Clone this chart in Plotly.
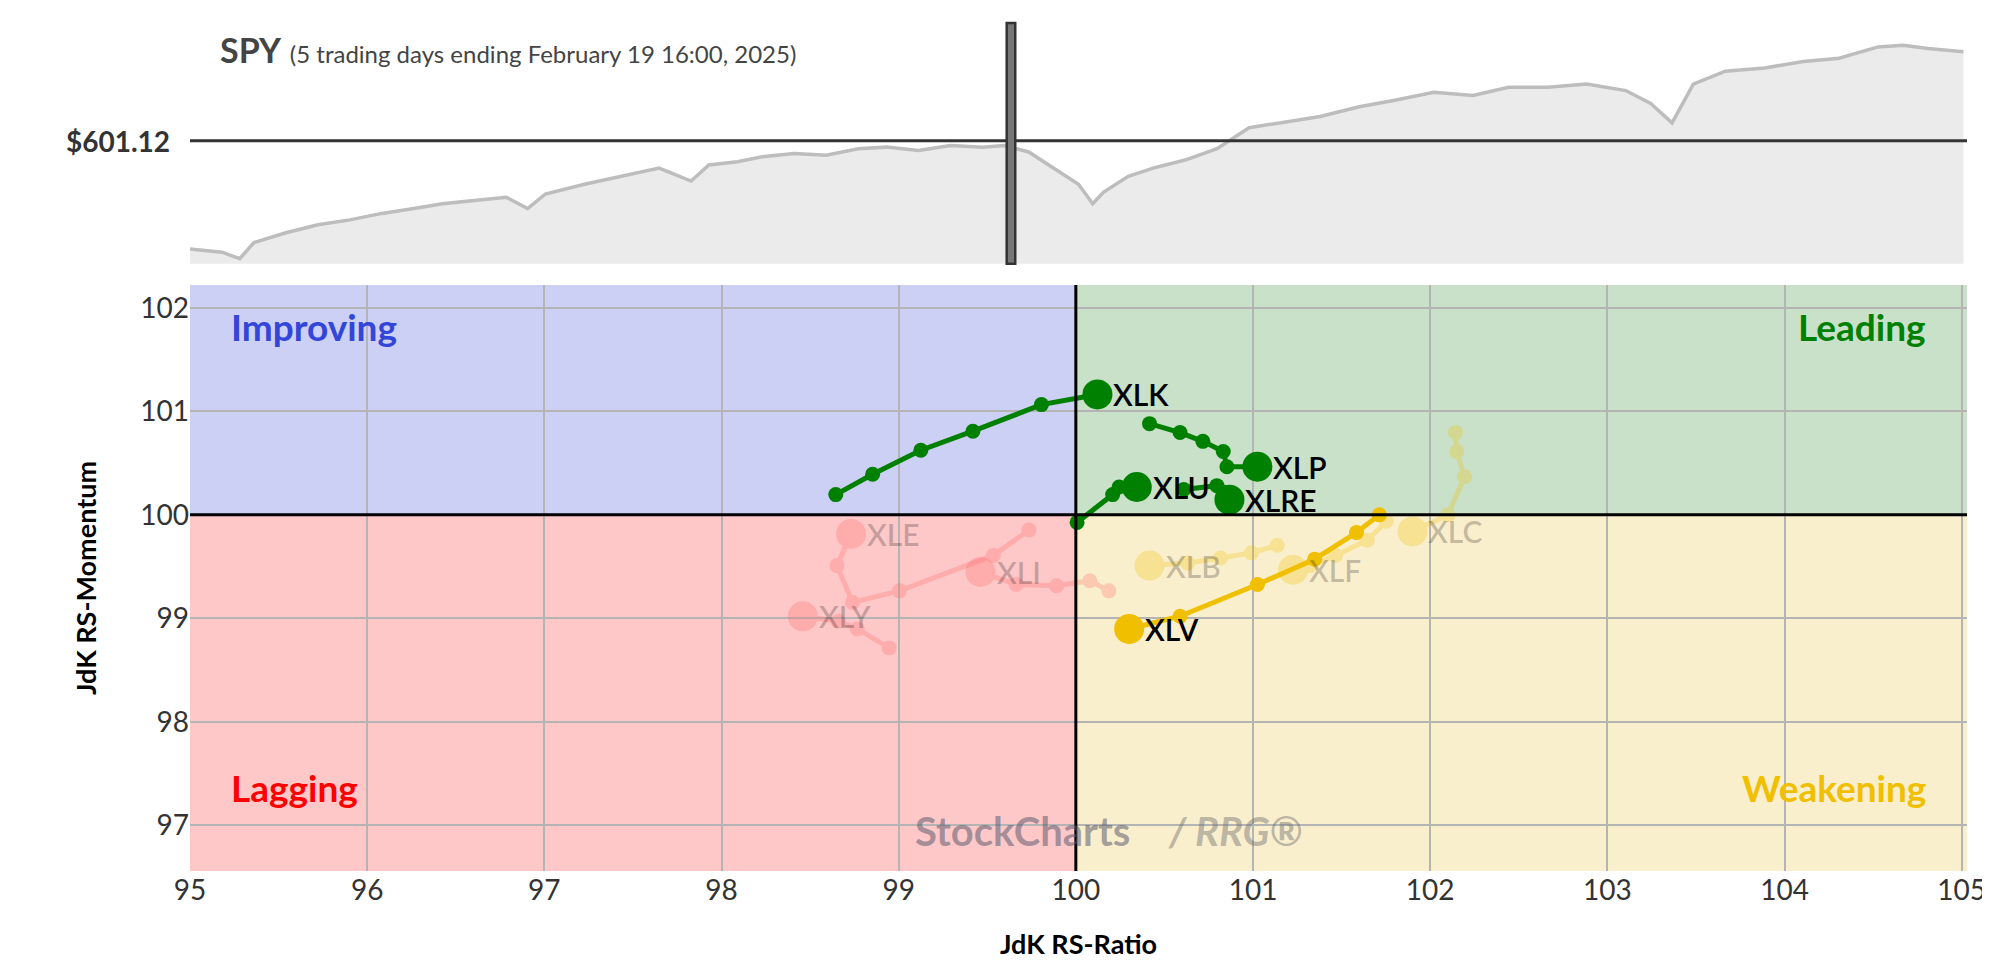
import plotly.graph_objects as go

# ---------------- data ----------------
tickers = ["XLK", "XLP", "XLU", "XLRE", "XLV", "XLC", "XLF", "XLB", "XLE", "XLY", "XLI"]
rs_ratio = {
    "XLK": [98.645, 98.853, 99.125, 99.419, 99.806, 100.122],
    "XLP": [100.416, 100.588, 100.717, 100.832, 100.853, 101.025],
    "XLU": [100.007, 100.208, 100.244, 100.344],
    "XLRE": [100.609, 100.796, 100.832, 100.867],
    "XLV": [101.713, 101.584, 101.348, 101.025, 100.588, 100.301],
    "XLC": [102.143, 102.150, 102.194, 102.100, 101.900],
    "XLF": [101.753, 101.645, 101.466, 101.323, 101.226],
    "XLB": [101.137, 100.991, 100.817, 100.631, 100.416],
    "XLE": [99.735, 99.534, 99.004, 98.739, 98.652, 98.731],
    "XLY": [98.946, 98.767, 98.659, 98.459],
    "XLI": [100.186, 100.079, 99.892, 99.663, 99.462],
}
rs_momentum = {
    "XLK": [100.196, 100.392, 100.624, 100.808, 101.065, 101.163],
    "XLP": [100.881, 100.795, 100.710, 100.612, 100.465, 100.465],
    "XLU": [99.927, 100.196, 100.269, 100.269],
    "XLRE": [100.245, 100.282, 100.220, 100.147],
    "XLV": [100.000, 99.829, 99.572, 99.327, 99.021, 98.898],
    "XLC": [100.795, 100.612, 100.367, 100.000, 99.840],
    "XLF": [99.939, 99.755, 99.608, 99.510, 99.470],
    "XLB": [99.706, 99.633, 99.584, 99.535, 99.510],
    "XLE": [99.853, 99.608, 99.266, 99.155, 99.510, 99.816],
    "XLY": [98.715, 98.898, 98.972, 99.020],
    "XLI": [99.266, 99.364, 99.315, 99.327, 99.449],
}
colors = {"XLK": "#008000", "XLP": "#008000", "XLU": "#008000", "XLRE": "#008000",
          "XLV": "#f0c000", "XLC": "#f0c000", "XLF": "#f0c000", "XLB": "#f0c000",
          "XLE": "#ff6666", "XLY": "#ff6666", "XLI": "#ff6666"}
faded = ["XLC", "XLF", "XLB", "XLE", "XLY", "XLI"]

spy_days = [0.0, 0.09, 0.14, 0.18, 0.27, 0.36, 0.45, 0.54, 0.63, 0.71, 0.80, 0.89, 0.95,
            1.0, 1.11, 1.21, 1.32, 1.41, 1.46, 1.54, 1.61, 1.70, 1.79, 1.88, 1.96, 2.05,
            2.14, 2.23, 2.29, 2.36, 2.43, 2.50, 2.54, 2.57, 2.64, 2.71, 2.80, 2.89, 2.98,
            3.07, 3.18, 3.29, 3.39, 3.50, 3.61, 3.71, 3.82, 3.93, 4.04, 4.11, 4.17, 4.23,
            4.32, 4.43, 4.54, 4.64, 4.75, 4.82, 4.89, 4.99]
spy_price = [594.42, 594.22, 593.82, 594.82, 595.42, 595.92, 596.22, 596.62, 596.92, 597.22,
             597.42, 597.62, 596.92, 597.82, 598.42, 598.92, 599.42, 598.62, 599.62, 599.82,
             600.12, 600.32, 600.22, 600.62, 600.72, 600.52, 600.82, 600.72, 600.82, 600.42,
             599.42, 598.42, 597.22, 597.92, 598.92, 599.42, 599.92, 600.62, 601.92, 602.22,
             602.62, 603.22, 603.62, 604.12, 603.92, 604.42, 604.42, 604.62, 604.22, 603.42,
             602.22, 604.62, 605.42, 605.62, 606.02, 606.22, 606.92, 607.02, 606.82, 606.62]
spy_level = 601.12
spy_marker_day = 2.31

# ---------------- figure ----------------
fig = go.Figure()

fig.add_trace(go.Scatter(x=spy_days, y=spy_price, xaxis="x2", yaxis="y2", mode="lines",
                         line=dict(color="#bdbdbd", width=3.5), fill="tozeroy",
                         fillcolor="#ebebeb", hoverinfo="skip", showlegend=False))

for t in tickers:
    xs, ys = rs_ratio[t], rs_momentum[t]
    op = 0.28 if t in faded else 1.0
    sizes = [15] * (len(xs) - 1) + [30]
    fig.add_trace(go.Scatter(x=xs, y=ys, mode="lines+markers", opacity=op,
                             line=dict(color=colors[t], width=5),
                             marker=dict(color=colors[t], size=sizes, opacity=1, line=dict(width=0)),
                             showlegend=False, hoverinfo="skip"))
    fig.add_annotation(x=xs[-1], y=ys[-1], text=t, showarrow=False, xanchor="left",
                       xshift=14, font=dict(family="Lato", size=30, weight=600,
                                            color="rgba(0,0,0,0.22)" if t in faded else "black"))

shapes = [
    dict(type="rect", xref="x", yref="y", x0=95, x1=100, y0=100, y1=103, fillcolor="#cbd0f4", line_width=0, layer="below"),
    dict(type="rect", xref="x", yref="y", x0=100, x1=106, y0=100, y1=103, fillcolor="#c9e0c9", line_width=0, layer="below"),
    dict(type="rect", xref="x", yref="y", x0=95, x1=100, y0=96, y1=100, fillcolor="#fec8c8", line_width=0, layer="below"),
    dict(type="rect", xref="x", yref="y", x0=100, x1=106, y0=96, y1=100, fillcolor="#faefcd", line_width=0, layer="below"),
    dict(type="line", xref="x", yref="paper", x0=100, x1=100, y0=0, y1=0.691, line=dict(color="black", width=3)),
    dict(type="line", xref="paper", yref="y", x0=0, x1=1, y0=100, y1=100, line=dict(color="black", width=3)),
    dict(type="line", xref="paper", yref="y2", x0=0, x1=1, y0=spy_level, y1=spy_level, line=dict(color="#333", width=3)),
    dict(type="rect", xref="x2", yref="paper", x0=spy_marker_day - 0.012, x1=spy_marker_day + 0.012,
         y0=0.716, y1=1.0, fillcolor="#777", line=dict(color="#333", width=2.5)),
]
fig.update_layout(shapes=shapes)

quad = [("Improving", 0.022, 0.93, "left", "#3346d9"), ("Leading", 0.978, 0.93, "right", "#008000"),
        ("Lagging", 0.022, 0.10, "left", "#ff0000"), ("Weakening", 0.978, 0.10, "right", "#f0c000")]
for txt, xx, yy, xa, c in quad:
    fig.add_annotation(xref="paper", yref="paper", x=xx, y=yy * 0.691, text="<b>" + txt + "</b>",
                       showarrow=False, xanchor=xa, font=dict(family="Lato", size=37, color=c))

fig.add_annotation(xref="x", yref="y", x=99.7, y=96.95, text="<b>StockCharts</b>", showarrow=False,
                   font=dict(family="Lato", size=40, color="rgba(90,90,110,0.55)"))
fig.add_annotation(xref="x", yref="y", x=100.9, y=96.95, text="<b><i>/ RRG®</i></b>", showarrow=False,
                   font=dict(family="Lato", size=40, color="rgba(110,110,110,0.45)"))

fig.add_annotation(xref="paper", yref="paper", x=0.016, y=0.995, xanchor="left", yanchor="top",
                   text="<b>SPY</b> <span style='font-size:24px'>(5 trading days ending February 19 16:00, 2025)</span>",
                   showarrow=False, font=dict(family="Lato", size=34, color="#444"))
fig.add_annotation(xref="paper", yref="y2", x=-0.01, y=spy_level, xanchor="right", text="<b>$601.12</b>",
                   showarrow=False, font=dict(family="Lato", size=28, color="#333"))

fig.update_layout(
    width=1990, height=976, paper_bgcolor="white", plot_bgcolor="white",
    margin=dict(l=182, r=24, t=15, b=113),
    font=dict(family="Lato", color="#333"),
    xaxis=dict(domain=[0, 1], range=[95, 105.03], dtick=1, showgrid=True, gridcolor="#b4b4b4",
               gridwidth=1.5, zeroline=False, ticks="", tickfont=dict(size=28),
               title=dict(text="<b>JdK RS-Ratio</b>", font=dict(size=27, color="black"), standoff=30)),
    yaxis=dict(domain=[0, 0.691], range=[96.56, 102.22], dtick=1, showgrid=True, gridcolor="#b4b4b4",
               gridwidth=1.5, zeroline=False, ticks="", tickfont=dict(size=28),
               title=dict(text="<b>JdK RS-Momentum</b>", font=dict(size=27, color="black"), standoff=35)),
    xaxis2=dict(domain=[0, 1], anchor="y2", range=[0, 5], visible=False),
    yaxis2=dict(domain=[0.716, 1], anchor="x2", range=[593.5, 608.4], visible=False),
)

fig.write_html("out.html")
